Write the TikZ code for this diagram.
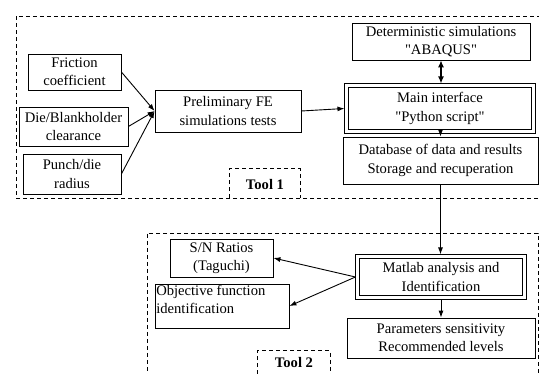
\documentclass[tikz,border=0pt]{standalone}
\usepackage{fontspec}
\setmainfont{Liberation Serif}
\usetikzlibrary{arrows.meta,fit}
\newcommand{\sq}{\XeTeXglyph\XeTeXglyphindex"quotedbl"\relax}
\begin{document}
\begin{tikzpicture}[x=1pt,y=-1pt,
  font=\fontsize{14.6}{18.2}\selectfont,
  box/.style={draw, line width=0.8pt, inner sep=0pt, align=center},
  dbl/.style={draw, line width=0.8pt, inner sep=3pt},
  toolbox/.style={draw, line width=0.7pt, dash pattern=on 4pt off 3pt},
  arr/.style={line width=0.9pt, -{Latex[length=7pt,width=5pt]}},
  darr/.style={line width=1.2pt, {Latex[length=7pt,width=6pt]}-{Latex[length=7pt,width=6pt]}},
  lbl/.style={font=\fontsize{14.6}{18.2}\selectfont\bfseries}
]
\useasboundingbox (0,0) rectangle (539,374);
% tool frames
\draw[toolbox] (545,198) -- (16,198) -- (16,16) -- (545,16);
\draw[toolbox] (538,380) -- (538,233) -- (147,233) -- (147,380);
% tool 1 boxes
\node[box, minimum width=93, minimum height=36] (fric) at (74.5,72) {Friction\\coefficient};
\node[box, minimum width=109, minimum height=39] (die) at (73.5,126.5) {Die/Blankholder\\clearance};
\node[box, minimum width=98, minimum height=40] (punch) at (72,174) {Punch/die\\radius};
\node[box, minimum width=146, minimum height=42] (prelim) at (228,111) {Preliminary FE\\simulations tests};
\node[box, minimum width=178, minimum height=37] (det) at (441,41.5) {Deterministic simulations\\\sq ABAQUS\sq};
\node[box, line width=1.3pt, minimum width=183, minimum height=42] (main) at (440,108.5) {Main interface\\\sq Python script\sq};
\node[dbl, fit=(main)] (mainO) {};
\node[box, minimum width=195, minimum height=47] (db) at (440.5,160.5) {Database of data and results\\Storage and recuperation};
\node[draw=none, minimum width=70, minimum height=29, inner sep=0pt] (t1) at (265,183.5) {};
\draw[toolbox] (t1.south west) -- (t1.north west) -- (t1.north east) -- (t1.south east);
\node[lbl] (t1l) at (265,185) {Tool 1};
% tool 2 boxes
\node[box, line width=1.3pt, minimum width=163, minimum height=37] (mat) at (441,277) {Matlab analysis and\\Identification};
\node[dbl, fit=(mat)] (matO) {};
\node[box, minimum width=188, minimum height=40] (param) at (441,338) {Parameters sensitivity\\Recommended levels};
\node[box, minimum width=103, minimum height=38] (sn) at (221.5,258) {S/N Ratios\\(Taguchi)};
\node[box, minimum width=134, minimum height=44] (obj) at (222,306) {};
\node[anchor=north west, inner sep=1.5pt, align=left] (objt) at (obj.north west) {Objective function\\identification};
\node[draw=none, minimum width=72, minimum height=30, inner sep=0pt] (t2) at (294,366) {};
\draw[toolbox] (t2.south west) -- (t2.north west) -- (t2.north east) -- (t2.south east);
\node[lbl] (t2l) at (294,363) {Tool 2};
% connectors
\draw[arr] (fric.east) -- (prelim.west);
\draw[arr] (die.east) -- (prelim.west);
\draw[arr] (punch.east) -- (prelim.west);
\draw[arr] (prelim.east) -- (mainO.west);
\draw[darr] (det.south) -- (det.south |- mainO.north);
\draw[arr] (mainO.south -| db.north) -- (db.north);
\draw[arr] (db.south) -- (db.south |- matO.north);
\draw[arr] (matO.west) -- (sn.east);
\draw[arr] (matO.west) -- (obj.east);
\draw[arr] (matO.south) -- (param.north);
\end{tikzpicture}
\end{document}
